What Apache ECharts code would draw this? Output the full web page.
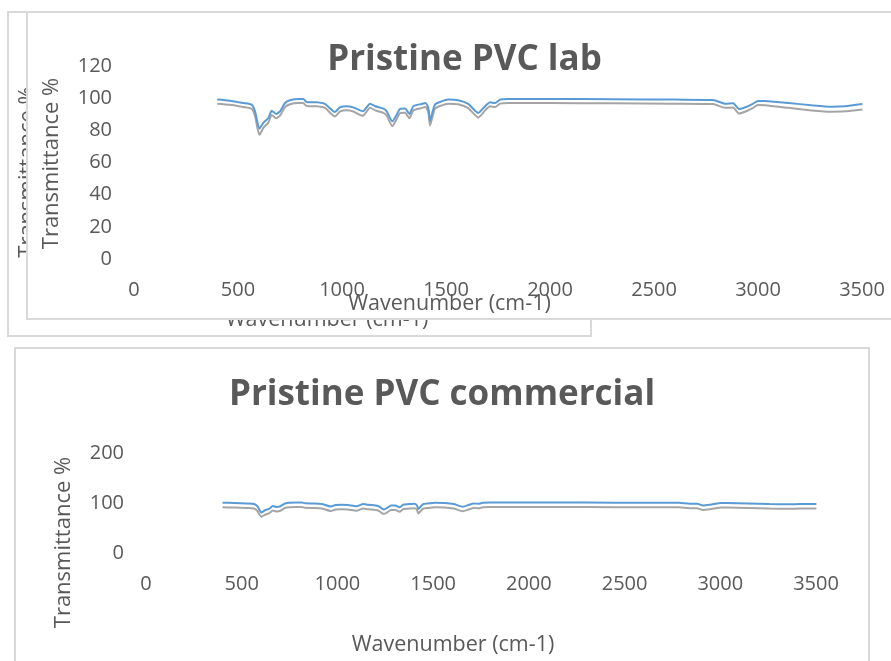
<!DOCTYPE html>
<html><head><meta charset="utf-8">
<script src="https://cdn.jsdelivr.net/npm/echarts@6/dist/echarts.min.js"></script>
<style>
html,body{margin:0;padding:0;background:#fff;width:891px;height:661px;overflow:hidden;position:relative;}
.box{position:absolute;border:2px solid #d9d9d9;background:#fff;}
</style></head><body>
<div id="back" class="box" style="left:7px;top:11px;width:581px;height:322px;"></div>
<div id="lab" class="box" style="left:26px;top:11px;width:880px;height:305px;"></div>
<div id="comm" class="box" style="left:14px;top:347px;width:852px;height:330px;"></div>
<script>
const wavenumbers = [400,460,525,565,582,603,622,646,662,683,702,726,750,790,814,830,878,918,966,990,1022,1054,1100,1135,1160,1199,1215,1242,1263,1279,1303,1324,1343,1383,1402,1415,1423,1434,1447,1471,1511,1559,1607,1655,1688,1712,1736,1760,1800,2000,2300,2600,2784,2841,2880,2909,2946,2976,3000,3034,3146,3258,3354,3418,3502];
const labBlue = [99.1,98.4,97.0,96.0,91.8,81.0,84.6,87.7,92.2,90.2,91.8,97.0,98.7,99.5,99.5,97.6,97.4,96.4,91.4,94.3,95.0,94.3,91.8,96.6,95.0,93.5,91.8,85.6,89.7,93.3,93.5,90.2,95.0,96.4,97.0,93.9,86.0,90.8,96.0,97.6,99.1,98.7,96.4,90.8,95.0,97.4,97.0,99.1,99.5,99.5,99.3,99.1,98.9,96.6,96.8,93.3,94.7,96.6,98.3,98.2,97.0,95.6,94.7,95.0,96.4];
const labGray = [96.6,95.9,94.5,93.4,88.8,77.2,81.5,84.8,89.6,87.5,89.2,94.4,96.2,97.0,97.0,95.1,94.9,93.9,88.6,91.7,92.5,91.7,89.0,94.1,92.4,90.9,89.1,82.6,87.0,90.7,90.9,87.5,92.4,93.9,94.5,91.2,83.0,88.0,93.4,95.1,96.6,96.2,93.8,87.9,92.4,94.9,94.5,96.6,97.0,97.0,96.8,96.6,96.3,94.0,94.2,90.4,92.0,94.0,95.7,95.6,94.0,92.4,91.6,91.8,93.0];
const commBlue = [100.6,100.0,99.0,98.0,93.5,81.0,85.5,89.0,94.0,92.0,93.5,99.0,100.5,101.0,101.0,99.5,99.0,98.0,93.0,96.0,96.5,96.0,93.5,98.0,96.5,95.0,93.5,87.0,91.0,95.0,95.0,91.5,96.5,98.0,98.5,95.5,88.0,92.5,97.5,99.0,100.5,100.0,98.0,92.5,96.5,99.0,98.5,100.5,101.0,101.0,100.8,100.6,100.4,98.5,98.5,95.0,96.5,98.5,100.0,99.8,99.0,98.0,97.5,97.8,98.0];
const commGray = [91.4,91.0,90.0,89.0,84.0,72.6,76.5,80.0,85.0,83.0,84.5,90.0,91.5,92.0,92.0,90.5,90.0,89.0,84.0,87.0,87.5,87.0,84.5,89.0,87.5,86.0,84.5,78.0,82.0,86.0,86.0,82.5,87.5,89.0,89.5,86.5,79.0,83.5,88.5,90.0,91.5,91.0,89.0,83.5,87.5,90.0,89.5,91.5,92.0,92.0,91.8,91.6,91.4,89.5,89.5,86.0,87.5,89.5,91.0,90.8,90.0,89.0,88.5,88.8,89.0];

const yTitle = 'Transmittance %';
const xTitle = 'Wavenumber (cm-1)';
const FONT = 'Open Sans';
const TXT = '#595959';

function pairs(xs, ys){ return xs.map((x,i)=>[x, ys[i]]); }
const plain = v => String(v);

function makeOption(c){
  return {
    animation:false,
    title: c.title ? {text:c.title, left:c.titleX, top:c.titleY, textAlign:'center', textVerticalAlign:'middle', padding:0,
      textStyle:{fontFamily:FONT, fontWeight:'bold', fontSize:35, color:TXT}} : undefined,
    grid:{left:c.grid[0], top:c.grid[1], width:c.grid[2], height:c.grid[3]},
    xAxis:{type:'value', min:0, max:3500, interval:500,
      axisLine:{show:false}, axisTick:{show:false}, splitLine:{show:false},
      axisLabel:{fontFamily:FONT, fontSize:20, color:TXT, margin:21, formatter:plain}},
    yAxis:{type:'value', min:0, max:c.yMax, interval:c.yInt,
      axisLine:{show:false}, axisTick:{show:false}, splitLine:{show:false},
      axisLabel:{fontFamily:FONT, fontSize:20, color:TXT, margin:22, formatter:plain}},
    graphic:[
      {type:'text', x:c.yt[0], y:c.yt[1], rotation:Math.PI/2,
        style:{text:yTitle, fontFamily:FONT, fontSize:22, fill:TXT, align:'center', verticalAlign:'middle'}},
      {type:'text', x:c.xt[0], y:c.xt[1],
        style:{text:xTitle, fontFamily:FONT, fontSize:21.5, fill:TXT, align:'center', verticalAlign:'middle'}}
    ],
    series:[
      {type:'line', data:pairs(wavenumbers, c.gray), showSymbol:false, smooth:0.2, lineStyle:{color:'#a5a5a5', width:2}, itemStyle:{color:'#a5a5a5'}},
      {type:'line', data:pairs(wavenumbers, c.blue), showSymbol:false, smooth:0.2, lineStyle:{color:'#5b9bd5', width:2}, itemStyle:{color:'#5b9bd5'}}
    ]
  };
}

echarts.init(document.getElementById('back')).setOption(makeOption({
  grid:[100,60,460,200], yMax:120, yInt:20, yt:[19,159], xt:[318,307], blue:labBlue, gray:labGray
}));
echarts.init(document.getElementById('lab')).setOption(makeOption({
  title:'Pristine PVC lab', titleX:436.5, titleY:47,
  grid:[106,53,728,193], yMax:120, yInt:20, yt:[23.5,150.5], xt:[421.5,290.5], blue:labBlue, gray:labGray
}));
echarts.init(document.getElementById('comm')).setOption(makeOption({
  title:'Pristine PVC commercial', titleX:426, titleY:46.5,
  grid:[130,104,670,100], yMax:200, yInt:100, yt:[47.5,193.5], xt:[437,295.5], blue:commBlue, gray:commGray
}));
</script></body></html>
